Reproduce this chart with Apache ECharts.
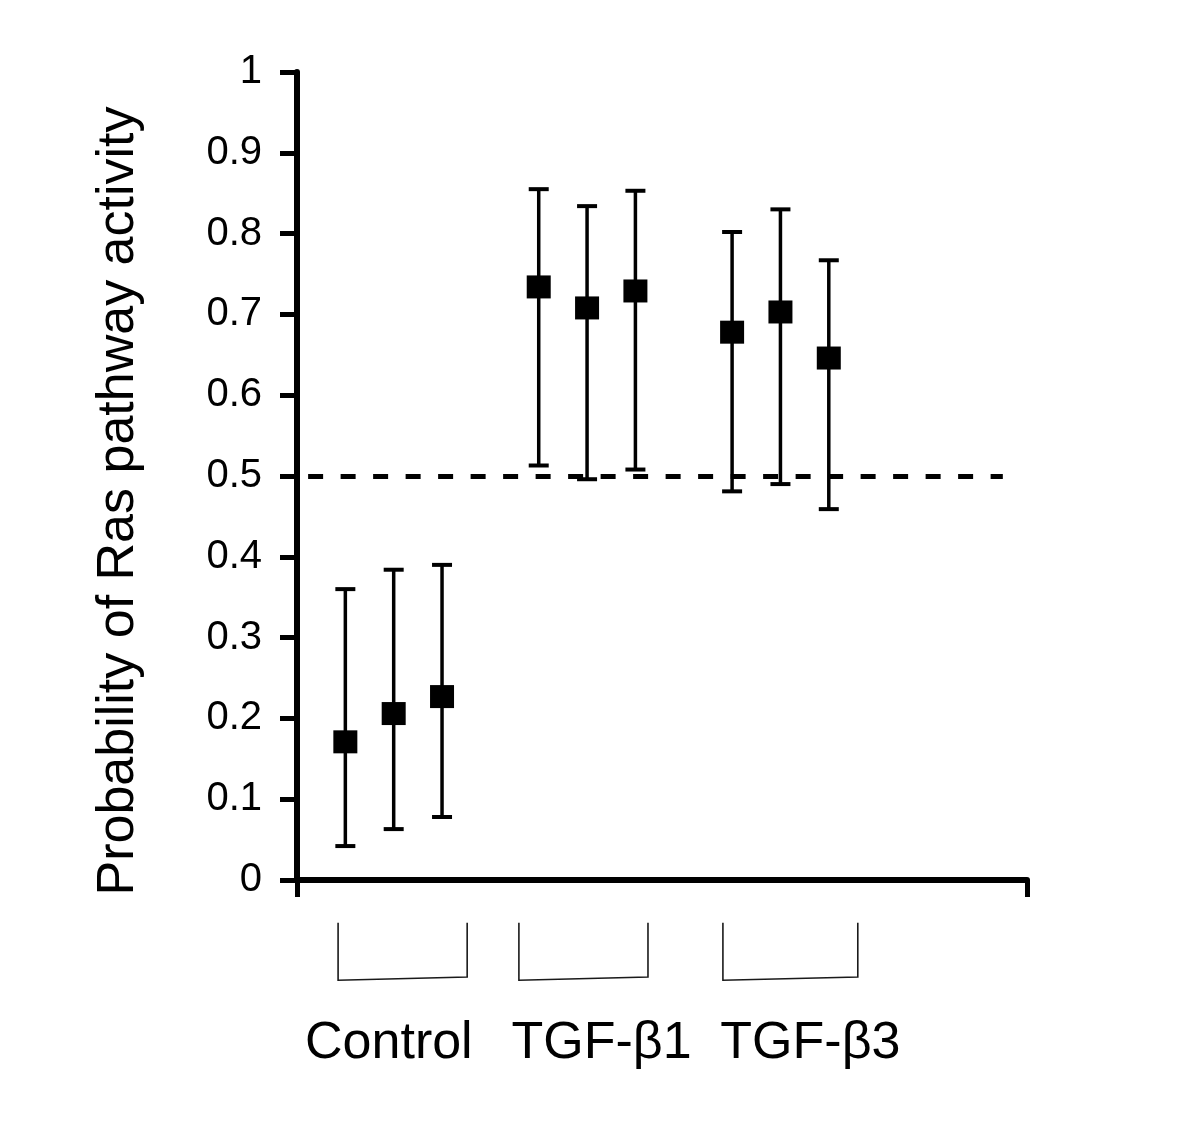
<!DOCTYPE html>
<html>
<head>
<meta charset="utf-8">
<script src="https://cdn.jsdelivr.net/npm/echarts@6/dist/echarts.min.js"></script>
<style>html,body{margin:0;padding:0;background:#fff}#chart{width:1200px;height:1128px}</style>
</head>
<body>
<div id="chart"></div>
<script>
// ---- data ----
var groupNames = ['Control', 'TGF-\u03b21', 'TGF-\u03b23'];
var positions = [1, 2, 3, 5, 6, 7, 9, 10, 11];
var means = [0.171, 0.206, 0.227, 0.734, 0.708, 0.729, 0.678, 0.703, 0.646];
var lows  = [0.042, 0.063, 0.078, 0.513, 0.496, 0.508, 0.481, 0.490, 0.459];
var highs = [0.360, 0.384, 0.390, 0.855, 0.834, 0.853, 0.802, 0.830, 0.767];
var bracketStart = [0.85, 4.59, 8.81];
var bracketEnd   = [3.52, 7.26, 11.6];
var labelX       = [1.90, 6.30, 10.62];
var threshold = 0.5;
var thresholdFrom = 0.23, thresholdTo = 14.6;
var yTicks = [0, 0.1, 0.2, 0.3, 0.4, 0.5, 0.6, 0.7, 0.8, 0.9, 1];

var FONT = 'Liberation Sans, Arial, Helvetica, sans-serif';
var chart = echarts.init(document.getElementById('chart'), null, {renderer: 'canvas'});

var errData = positions.map(function (p, i) { return [p, lows[i], highs[i]]; });
var ptData = positions.map(function (p, i) { return [p, means[i]]; });
var grpData = groupNames.map(function (n, i) { return [bracketStart[i], bracketEnd[i], labelX[i], i]; });

var option = {
  animation: false,
  backgroundColor: '#fff',
  grid: {left: 297, right: 173, top: 72, bottom: 248, containLabel: false},
  xAxis: {
    type: 'value', min: 0, max: 15.1, interval: 15.1,
    axisLine: {show: true, lineStyle: {color: '#000', width: 6}},
    axisTick: {show: true, length: 17, lineStyle: {color: '#000', width: 5}},
    axisLabel: {show: false},
    splitLine: {show: false}
  },
  yAxis: {
    type: 'value', min: 0, max: 1, interval: 0.1,
    name: 'Probability of Ras pathway activity',
    nameLocation: 'middle', nameGap: 152,
    nameTextStyle: {fontFamily: FONT, fontSize: 52, color: '#000', padding: [0, 50, 0, 0]},
    axisLine: {show: true, lineStyle: {color: '#000', width: 6}},
    axisTick: {show: true, length: 17, lineStyle: {color: '#000', width: 5}},
    axisLabel: {
      margin: 35, fontFamily: FONT, fontSize: 40, color: '#000',
      formatter: function (v) {
        var best = yTicks.reduce(function (a, b) { return Math.abs(b - v) < Math.abs(a - v) ? b : a; });
        return String(best);
      }
    },
    splitLine: {show: false}
  },
  series: [
    {
      type: 'custom',
      data: errData,
      clip: false,
      z: 2,
      renderItem: function (params, api) {
        var x = api.value(0);
        var lo = api.coord([x, api.value(1)]);
        var hi = api.coord([x, api.value(2)]);
        var hw = 10;
        var st = {stroke: '#000', lineWidth: 3.5};
        var cst = {stroke: '#000', lineWidth: 4};
        return {
          type: 'group',
          children: [
            {type: 'line', shape: {x1: lo[0], y1: lo[1], x2: hi[0], y2: hi[1]}, style: st},
            {type: 'line', shape: {x1: hi[0] - hw, y1: hi[1], x2: hi[0] + hw, y2: hi[1]}, style: cst},
            {type: 'line', shape: {x1: lo[0] - hw, y1: lo[1], x2: lo[0] + hw, y2: lo[1]}, style: cst}
          ]
        };
      }
    },
    {
      type: 'scatter',
      data: ptData,
      symbol: 'rect',
      symbolSize: [24, 23],
      itemStyle: {color: '#000', opacity: 1},
      z: 3,
      markLine: {
        silent: true,
        symbol: ['none', 'none'],
        label: {show: false},
        lineStyle: {color: '#000', width: 5, type: [15, 17.5]},
        data: [[{coord: [thresholdFrom, threshold]}, {coord: [thresholdTo, threshold]}]]
      }
    },
    {
      type: 'custom',
      data: grpData,
      clip: false,
      z: 2,
      renderItem: function (params, api) {
        var a = api.coord([api.value(0), -0.053]);
        var b = api.coord([api.value(0), -0.124]);
        var c = api.coord([api.value(1), -0.12]);
        var d = api.coord([api.value(1), -0.053]);
        var t = api.coord([api.value(2), -0.202]);
        var name = groupNames[api.value(3)];
        return {
          type: 'group',
          children: [
            {type: 'polyline', shape: {points: [a, b, c, d]}, style: {stroke: '#1a1a1a', lineWidth: 1.6, fill: null}},
            {type: 'text', x: t[0], y: t[1], style: {text: name, fontFamily: FONT, fontSize: 52, fill: '#000', align: 'center', verticalAlign: 'middle'}}
          ]
        };
      }
    }
  ]
};
chart.setOption(option);
</script>
</body>
</html>
